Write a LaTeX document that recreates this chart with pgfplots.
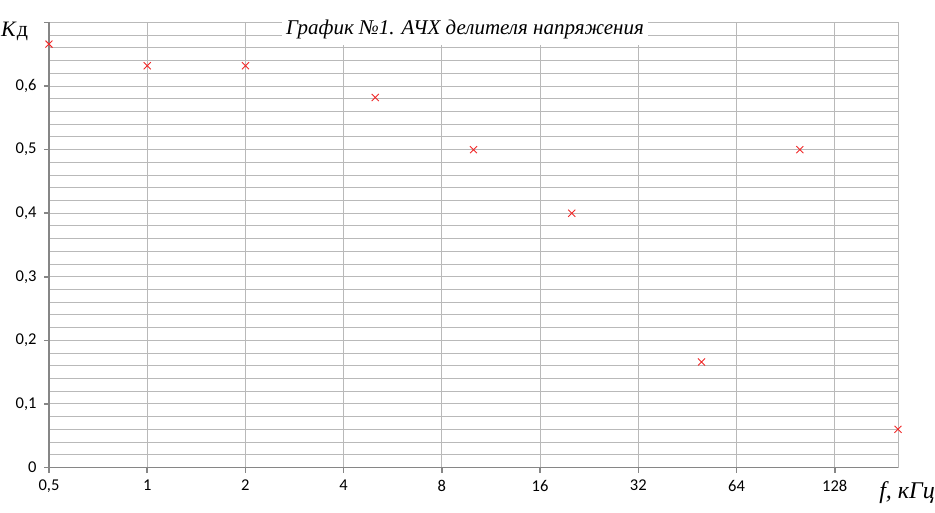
\documentclass[border=0pt]{standalone}
\usepackage{fontspec}
\setmainfont{Carlito}
\newfontfamily\tnr{Liberation Serif}
\usepackage{pgfplots}
\pgfplotsset{compat=1.18}
\definecolor{gridgray}{RGB}{185,185,185}
\definecolor{axisgray}{RGB}{134,134,134}
\definecolor{markred}{RGB}{240,40,40}

\begin{document}
\begin{tikzpicture}
\begin{axis}[
    scale only axis,
    width=849pt, height=445pt,
    xmode=log, log basis x=2,
    xmin=0.5, xmax=200,
    ymin=0, ymax=0.7,
    axis x line=bottom, axis y line=left,
    axis line style={-, draw=axisgray, line width=1.6pt},
    xtick={0.5,1,2,4,8,16,32,64,128},
    xticklabels={{0,5},1,2,4,8,16,32,64,128},
    ytick={0,0.1,0.2,0.3,0.4,0.5,0.6,0.7},
    yticklabels={0,{0,1},{0,2},{0,3},{0,4},{0,5},{0,6},{}},
    minor ytick={0.02,0.04,0.06,0.08,0.12,0.14,0.16,0.18,0.22,0.24,0.26,0.28,
                 0.32,0.34,0.36,0.38,0.42,0.44,0.46,0.48,0.52,0.54,0.56,0.58,
                 0.62,0.64,0.66,0.68},
    extra x ticks={200},
    extra x tick labels={},
    extra x tick style={major tick length=0pt, grid=major},
    grid=both,
    major grid style={draw=gridgray, line width=0.9pt},
    minor grid style={draw=gridgray, line width=0.9pt},
    minor tick length=0pt,
    tick align=outside,
    major tick length=5pt,
    tick style={draw=axisgray, line width=1.6pt},
    ticklabel style={font=\fontsize{16.5}{19}\selectfont},
    xticklabel style={yshift=-4pt},
    yticklabel style={xshift=-4pt},
    clip=false,
    title={\tnr\itshape График №1. АЧХ делителя напряжения},
    title style={at={(axis description cs:0.49,1)}, anchor=center, yshift=-13pt,
        fill=white, inner xsep=4pt, inner ysep=6pt, font=\fontsize{21}{24}\selectfont},
]
\addplot[only marks, mark=x, mark size=5pt, mark options={draw=markred, line width=0.9pt}]
coordinates {
    (0.5,0.666) (1,0.632) (2,0.632) (5,0.582) (10,0.5)
    (20,0.4) (50,0.166) (100,0.5) (200,0.06)
};
\node[anchor=base west, font=\fontsize{22}{25}\selectfont\tnr, inner sep=0pt]
    at (axis description cs:0,1) [xshift=-48pt, yshift=-14pt] {\textit{К}д};
\node[anchor=base east, font=\fontsize{24}{27}\selectfont\tnr\itshape, inner sep=0pt]
    at (axis description cs:1,0) [xshift=37pt, yshift=-31pt] {f, кГц};
\end{axis}
\pgfresetboundingbox
\path[use as bounding box] (-49pt,-44.5pt) rectangle (886pt,467.5pt);
\end{tikzpicture}
\end{document}
